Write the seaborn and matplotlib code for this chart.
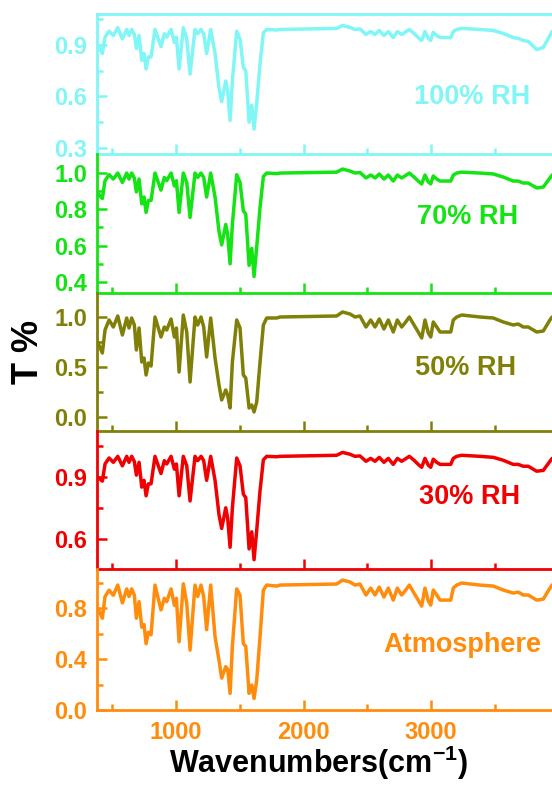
import matplotlib
matplotlib.use("Agg")
import matplotlib.pyplot as plt
from matplotlib.ticker import FixedLocator, FormatStrFormatter
import seaborn as sns
import pandas as pd

# ---------------- data ----------------
wavenumber = [385, 422, 443, 475, 508, 543, 579, 613, 631, 652,
              673, 689, 710, 731, 749, 765, 783, 804, 835, 882,
              908, 927, 961, 987, 1003, 1024, 1057, 1084, 1110, 1149,
              1170, 1196, 1217, 1240, 1272, 1306, 1337, 1358, 1390, 1405,
              1424, 1442, 1476, 1502, 1528, 1547, 1573, 1594, 1612, 1633,
              1659, 1685, 1711,
              1790, 1816, 2260, 2306, 2365, 2404, 2443, 2490, 2527, 2561,
              2594, 2631, 2665, 2704, 2736, 2770, 2796, 2830, 2867, 2900,
              2927, 2953, 2979, 2998, 3018, 3045, 3071, 3155, 3175, 3202,
              3241, 3384, 3489, 3567, 3645, 3684, 3724, 3763, 3829, 3881,
              3933, 3950]

t_100 = [0.906, 0.85, 0.945, 0.98, 0.955, 1.00, 0.935, 0.99, 0.955, 0.99,
         0.96, 0.88, 0.955, 0.81, 0.85, 0.76, 0.83, 0.83, 0.99, 0.89,
         0.965, 0.945, 0.99, 0.915, 0.945, 0.76, 1.00, 0.935, 0.73, 0.99,
         0.965, 0.99, 0.965, 0.85, 0.99, 0.85, 0.65, 0.57, 0.69, 0.63,
         0.46, 0.69, 0.98, 0.935, 0.77, 0.75, 0.45, 0.55, 0.41, 0.56,
         0.79, 0.97, 0.99,
         0.987, 0.99, 0.996, 1.013, 1.002, 0.99, 0.993, 0.961, 0.978, 0.961,
         0.984, 0.955, 0.978, 0.943, 0.978, 0.961, 0.973, 0.99, 0.967, 0.943,
         0.926, 0.978, 0.938, 0.926, 0.973, 0.955, 0.943, 0.943, 0.978, 0.99,
         0.996, 0.99, 0.984, 0.967, 0.943, 0.938, 0.926, 0.92, 0.873, 0.885,
         0.955, 0.978]

t_70 = [0.89, 0.86, 0.958, 0.991, 0.967, 1.0, 0.948, 1.0, 0.967, 1.0,
        0.972, 0.896, 0.967, 0.83, 0.868, 0.783, 0.849, 0.849, 1.0, 0.906,
        0.976, 0.958, 1.0, 0.929, 0.958, 0.783, 1.0, 0.948, 0.755, 1.0,
        0.976, 1.0, 0.976, 0.868, 1.0, 0.868, 0.679, 0.604, 0.717, 0.66,
        0.50, 0.717, 0.991, 0.948, 0.792, 0.774, 0.491, 0.585, 0.43, 0.594,
        0.811, 0.981, 1.0,
        0.997, 1.0, 1.005, 1.022, 1.011, 1.0, 1.003, 0.973, 0.989, 0.973,
        0.995, 0.967, 0.989, 0.956, 0.989, 0.973, 0.984, 1.0, 0.978, 0.956,
        0.94, 0.989, 0.951, 0.94, 0.984, 0.967, 0.956, 0.956, 0.989, 1.0,
        1.005, 1.0, 0.995, 0.978, 0.956, 0.956, 0.945, 0.945, 0.918, 0.923,
        0.973, 0.989]

t_50 = [0.75, 0.64, 0.87, 0.97, 0.90, 1.01, 0.82, 0.99, 0.89, 0.99,
        0.92, 0.67, 0.89, 0.55, 0.59, 0.42, 0.54, 0.51, 1.00, 0.80,
        0.90, 0.87, 0.98, 0.80, 0.89, 0.45, 1.02, 0.85, 0.35, 1.00,
        0.92, 1.00, 0.90, 0.60, 0.99, 0.59, 0.32, 0.17, 0.27, 0.22,
        0.09, 0.55, 0.97, 0.89, 0.42, 0.39, 0.09, 0.12, 0.05, 0.15,
        0.55, 0.92, 0.99,
        0.99, 1.00, 1.01, 1.05, 1.03, 1.00, 1.01, 0.90, 0.97, 0.90,
        0.98, 0.88, 0.97, 0.85, 0.97, 0.90, 0.94, 1.00, 0.92, 0.85,
        0.79, 0.97, 0.84, 0.80, 0.95, 0.90, 0.85, 0.85, 0.97, 1.00,
        1.02, 1.00, 0.99, 0.95, 0.92, 0.93, 0.90, 0.90, 0.85, 0.86,
        0.97, 1.00]

t_30 = [0.90, 0.88, 0.963, 0.992, 0.971, 1.0, 0.954, 1.0, 0.971, 1.0,
        0.975, 0.909, 0.971, 0.851, 0.884, 0.809, 0.867, 0.867, 1.0, 0.917,
        0.979, 0.963, 1.0, 0.938, 0.963, 0.809, 1.0, 0.954, 0.784, 1.0,
        0.979, 1.0, 0.979, 0.884, 1.0, 0.884, 0.718, 0.651, 0.751, 0.701,
        0.56, 0.751, 0.992, 0.954, 0.817, 0.80, 0.552, 0.635, 0.50, 0.643,
        0.834, 0.983, 1.0,
        0.998, 1.0, 1.005, 1.019, 1.01, 1.0, 1.002, 0.976, 0.99, 0.976,
        0.995, 0.971, 0.99, 0.961, 0.99, 0.976, 0.986, 1.0, 0.981, 0.961,
        0.947, 0.99, 0.957, 0.947, 0.986, 0.971, 0.961, 0.961, 0.99, 1.0,
        1.005, 1.0, 0.995, 0.981, 0.961, 0.961, 0.952, 0.952, 0.928, 0.932,
        0.976, 0.99]

t_atm = [0.80, 0.72, 0.89, 0.94, 0.90, 0.98, 0.84, 0.95, 0.89, 0.95,
         0.90, 0.72, 0.85, 0.65, 0.67, 0.52, 0.61, 0.59, 0.98, 0.785,
         0.876, 0.85, 0.95, 0.82, 0.876, 0.535, 0.99, 0.837, 0.47, 0.98,
         0.89, 0.98, 0.89, 0.63, 0.98, 0.575, 0.39, 0.25, 0.34, 0.32,
         0.13, 0.50, 0.95, 0.90, 0.52, 0.50, 0.13, 0.196, 0.09, 0.235,
         0.575, 0.94, 0.98,
         0.972, 0.98, 0.988, 1.019, 1.004, 0.98, 0.988, 0.902, 0.956, 0.902,
         0.964, 0.886, 0.956, 0.862, 0.956, 0.902, 0.933, 0.98, 0.917, 0.862,
         0.815, 0.956, 0.855, 0.823, 0.941, 0.902, 0.862, 0.862, 0.956, 0.98,
         0.996, 0.98, 0.972, 0.941, 0.917, 0.925, 0.902, 0.902, 0.862, 0.87,
         0.956, 0.98]

panel_labels = ["100% RH", "70% RH", "50% RH", "30% RH", "Atmosphere"]
x_ticks = [1000, 2000, 3000]
x_minor = [500, 1500, 2500, 3500]
y_major = [[0.3, 0.6, 0.9], [0.4, 0.6, 0.8, 1.0], [0.0, 0.5, 1.0], [0.6, 0.9], [0.0, 0.4, 0.8]]
y_minor = [[0.45, 0.75, 1.05], [0.5, 0.7, 0.9], [0.25, 0.75], [0.75, 1.05], [0.2, 0.6, 1.0]]
y_limits = [(0.265, 1.08), (0.339, 1.105), (-0.14, 1.24), (0.455, 1.1225), (0.0, 1.106)]

# ---------------- styling ----------------
sns.set_style("white")
plt.rcParams["font.family"] = ["Liberation Sans", "DejaVu Sans"]
plt.rcParams["font.weight"] = "bold"
plt.rcParams["mathtext.fontset"] = "custom"
plt.rcParams["mathtext.rm"] = "Liberation Sans:bold"
plt.rcParams["mathtext.it"] = "Liberation Sans:bold"
plt.rcParams["mathtext.bf"] = "Liberation Sans:bold"

colors = ["#80F6F6", "#14E314", "#808008", "#F00000", "#FF8C0C"]
series = [t_100, t_70, t_50, t_30, t_atm]

W, H = 552, 785
fig = plt.figure(figsize=(W / 100, H / 100), dpi=100)

# panel boundaries in pixel rows (top, bottom)
rows = [(14, 154), (154, 293), (293, 431), (431, 569), (569, 710)]
x_left, x_right = 97, 554

label_pos = [(0.82, 0.41), (0.81, 0.55), (0.807, 0.46), (0.815, 0.52), (0.80, 0.46)]

for i, (vals, col, lab) in enumerate(zip(series, colors, panel_labels)):
    top, bot = rows[i]
    ax = fig.add_axes([x_left / W, 1 - bot / H, (x_right - x_left) / W, (bot - top) / H])
    df = pd.DataFrame({"Wavenumber": wavenumber, "T": vals})
    sns.lineplot(data=df, x="Wavenumber", y="T", ax=ax, color=col,
                 linewidth=2.5, legend=False, sort=False)
    ax.set_xlim(380, 3965)
    ax.set_ylim(*y_limits[i])
    ax.set_xlabel("")
    ax.set_ylabel("")
    ax.set_facecolor("none")
    for side in ["left", "bottom", "top", "right"]:
        ax.spines[side].set_color(col)
        ax.spines[side].set_linewidth(2.0)
    ax.spines["right"].set_visible(False)
    if i > 0:
        ax.spines["top"].set_visible(False)
    ax.xaxis.set_major_locator(FixedLocator(x_ticks))
    ax.xaxis.set_minor_locator(FixedLocator(x_minor))
    ax.yaxis.set_major_locator(FixedLocator(y_major[i]))
    ax.yaxis.set_minor_locator(FixedLocator(y_minor[i]))
    ax.yaxis.set_major_formatter(FormatStrFormatter("%.1f"))
    ax.tick_params(axis="both", which="major", direction="in", length=7, width=1.8,
                   color=col, labelcolor=col, labelsize=17, pad=7)
    ax.tick_params(axis="both", which="minor", direction="in", length=4, width=1.8,
                   color=col)
    ax.tick_params(axis="x", which="both", top=False, bottom=True)
    ax.tick_params(axis="y", which="both", left=True, right=False)
    for t in ax.get_yticklabels():
        t.set_fontweight("bold")
    if i < 4:
        ax.tick_params(axis="x", labelbottom=False)
    else:
        ax.tick_params(axis="x", pad=8)
        for t in ax.get_xticklabels():
            t.set_fontweight("bold")
    lx, ly = label_pos[i]
    ax.text(lx, ly, lab, transform=ax.transAxes, color=col, fontsize=19.5,
            fontweight="bold", ha="center", va="center")

fig.text(28 / W, 1 - 352 / H, "T %", rotation=90, fontsize=26, fontweight="bold",
         color="black", ha="center", va="center")
fig.text(318 / W, 1 - 773 / H, r"Wavenumbers(cm$^{-1}$)", fontsize=22,
         fontweight="bold", color="black", ha="center", va="baseline")

fig.savefig("out.png", dpi=100)
